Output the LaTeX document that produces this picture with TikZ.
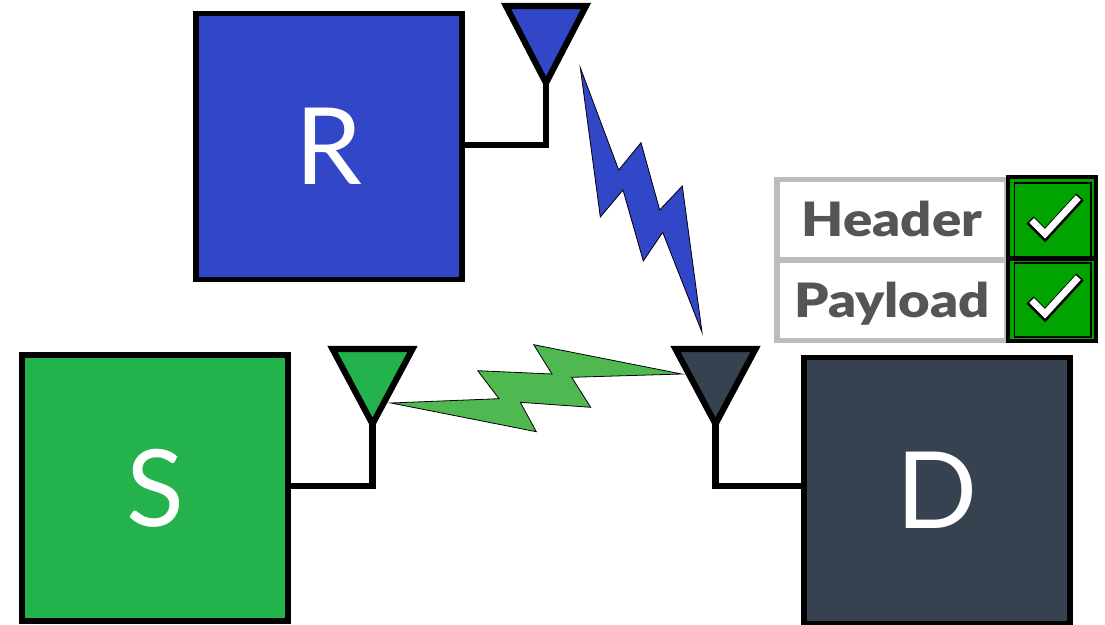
\documentclass[tikz,border=0pt]{standalone}
\usepackage{fontspec}
\setmainfont{Lato}
\newfontfamily\labelfont[FakeStretch=1.15]{Lato Black}
\definecolor{rblue}{HTML}{3246C8}
\definecolor{sgreen}{HTML}{23B24B}
\definecolor{dslate}{HTML}{36424F}
\definecolor{boltgreen}{HTML}{50B850}
\definecolor{okgreen}{HTML}{00A300}
\definecolor{cellgrey}{HTML}{BBBBC0}
\definecolor{labelgrey}{HTML}{555555}
\tikzset{
  station/.style={draw=black,line width=4pt,minimum width=199.5pt,minimum height=199.5pt,inner sep=0pt,text=white,font=\fontsize{80}{80}\selectfont},
  antenna/.style={draw=black,line width=4.6pt,line join=miter,miter limit=10},
  wire/.style={draw=black,line width=5pt,line cap=butt,line join=miter},
  bolt/.style={draw=black,line width=.6pt,line join=miter,miter limit=10},
  cell/.style={draw=cellgrey,line width=3.8pt,fill=white,minimum width=172.5pt,minimum height=60.5pt,inner sep=0pt,text=labelgrey,font=\fontsize{35.5}{35.5}\labelfont,text height=25.6pt,text depth=0pt},
  okbox/.style={draw=black,line width=2.8pt,fill=okgreen,minimum width=66.5pt,minimum height=61pt,inner sep=0pt},
  okinner/.style={draw=black,line width=.9pt},
  tickout/.style={draw=black,line width=7.6pt,line cap=butt,line join=miter},
  tickin/.style={draw=white,line width=5pt,line cap=butt,line join=miter}
}
\begin{document}
\begin{tikzpicture}[x=.75pt,y=-.75pt]
\useasboundingbox (0,0) rectangle (1105,624);
\clip (0,0) rectangle (1105,624);
% stations
\node[station,fill=rblue] (R) at (329,146.5) {R};
\node[station,fill=sgreen] (S) at (155,488) {S};
\node[station,fill=dslate] (D) at (937,490.5) {D};
% antenna tips
\coordinate (aR) at (546,83);
\coordinate (aS) at (372.5,424);
\coordinate (aD) at (715.5,424);
\coordinate (jR) at ([yshift=1.1pt]R.east);
\coordinate (jS) at ([yshift=1.5pt]S.east);
\coordinate (jD) at ([yshift=3.4pt]D.west);
% wires
\draw[wire] (aR) |- (jR);
\draw[wire] (aS) |- (jS);
\draw[wire] (aD) |- (jD);
% antennas
\draw[antenna,fill=rblue] (506,6) -- (586,6) -- (aR) -- cycle;
\draw[antenna,fill=sgreen] (332.5,349) -- (412.5,349) -- (aS) -- cycle;
\draw[antenna,fill=dslate] (675.5,349) -- (755.5,349) -- (aD) -- cycle;
% bolts
\draw[bolt,fill=rblue] (580.3,67.7) -- (618.7,170) -- (641,142.7) -- (659.7,210) -- (682.3,186) -- (702,332.3) -- (662.7,232.3) -- (643.3,261) -- (623,190) -- (600.3,217) -- cycle;
\draw[bolt,fill=boltgreen] (391,403) -- (499,398.7) -- (477.7,370.7) -- (552,374) -- (533.7,344.7) -- (681.7,374) -- (571.7,377.3) -- (590.7,407.3) -- (520.3,402.3) -- (536.3,431.7) -- cycle;
% status table
\node[cell] (hdr) at (892,219.5) {Header};
\node[cell] (pay) at (892,300.5) {Payload};
\node[okbox] (okH) at (1052,217.5) {};
\node[okbox] (okP) at (1052,300) {};
\draw[okinner] (1014.5,183) rectangle (1091,258);
\draw[okinner] (1014.5,263) rectangle (1091,337);
\draw[tickout] (1030,220) -- (1045,235) -- (1080,197);
\draw[tickin] (1031.7,220.5) -- (1045,233.8) -- (1078.3,197.5);
\draw[tickout] (1030,300) -- (1045,315) -- (1080,277);
\draw[tickin] (1031.7,300.5) -- (1045,313.8) -- (1078.3,277.5);
\end{tikzpicture}
\end{document}
